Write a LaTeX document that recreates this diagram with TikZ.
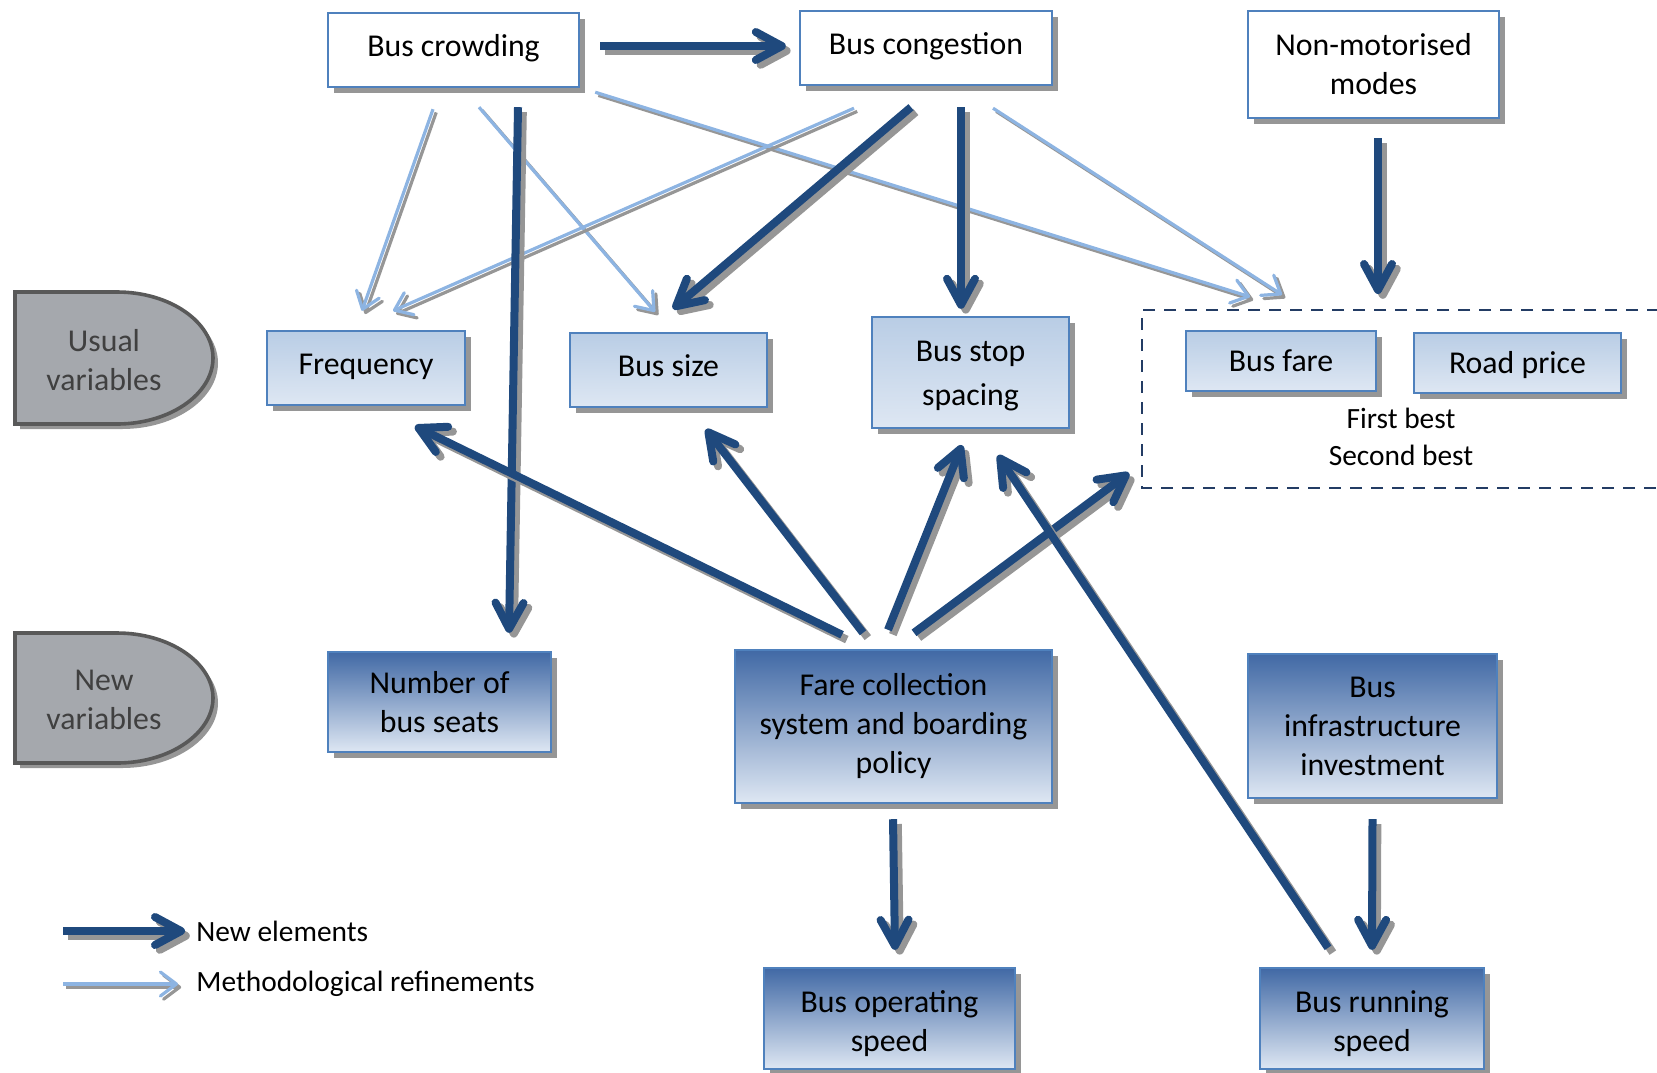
\documentclass[tikz,border=0pt]{standalone}
\usepackage{fontspec}
\setmainfont{Carlito}
\usetikzlibrary{arrows.meta,shadows,calc}

\definecolor{boxb}{RGB}{79,129,189}
\definecolor{darkb}{RGB}{31,73,125}
\definecolor{lightb}{RGB}{141,180,226}
\definecolor{shadowc}{RGB}{150,150,150}
\definecolor{usualtop}{RGB}{185,205,229}
\definecolor{usualbot}{RGB}{222,231,243}
\definecolor{newtop}{RGB}{65,105,165}
\definecolor{grayfill}{RGB}{165,168,173}
\definecolor{grayedge}{RGB}{89,89,89}
\definecolor{graytext}{RGB}{64,64,64}
\definecolor{dashc}{RGB}{35,60,100}

\newcommand{\arrnew}[2]{\draw[newshadow] #1 -- #2; \draw[newarr] #1 -- #2;}
\newcommand{\arrref}[2]{\draw[refshadow] #1 -- #2; \draw[refarr] #1 -- #2;}

\begin{document}
\begin{tikzpicture}[x=0.5pt,y=-0.5pt,
  every node/.style={font=\fontsize{15.9}{19.5}\selectfont},
  smallfont/.style={font=\fontsize{14.7}{18}\selectfont},
  boxshadow/.style={general shadow={fill=shadowc, shadow xshift=3pt, shadow yshift=-3pt}},
  box/.style={draw=boxb, line width=1.2pt, align=center, inner sep=2pt, boxshadow},
  oneline/.style={text height=11pt, text depth=4.8pt},
  onelinelow/.style={text height=11pt, text depth=0.6pt},
  topbox/.style={box, fill=white},
  usualbox/.style={box, top color=usualtop, bottom color=usualbot},
  newbox/.style={box, top color=newtop, bottom color=usualbot},
  varshape/.style={fill=grayfill, draw=grayedge, line width=1.8pt, general shadow={fill=shadowc, shadow xshift=2.5pt, shadow yshift=-2.5pt}},
  newtip/.style={-{Straight Barb[length=13pt,width=14pt,round]}},
  reftip/.style={-{Straight Barb[length=8pt,width=12pt,round]}},
  newarr/.style={draw=darkb, line width=4pt, newtip},
  newshadow/.style={draw=shadowc, line width=4pt, newtip, transform canvas={shift={(2.4pt,-2.4pt)}}},
  refarr/.style={draw=lightb, line width=1.6pt, reftip},
  refshadow/.style={draw=shadowc, line width=1.6pt, reftip, transform canvas={shift={(1.6pt,-1.6pt)}}},
]
\useasboundingbox (0,0) rectangle (1657,1072);

% left category shapes
\draw[varshape] (15,292) -- (117,292) .. controls (170,292) and (213,322) .. (213,358)
  .. controls (213,394) and (170,424) .. (117,424) -- (15,424) -- cycle;
\node[text=graytext, align=center] (usual) at (104,360) {Usual\\variables};
\draw[varshape] (15,633) -- (117,633) .. controls (170,633) and (213,663) .. (213,698)
  .. controls (213,733) and (170,763) .. (117,763) -- (15,763) -- cycle;
\node[text=graytext, align=center] (newvar) at (104,700) {New\\variables};

% top row
\node[topbox, oneline, minimum width=125.5pt, minimum height=37pt] (crowd) at (453.5,50) {Bus crowding};
\node[topbox, oneline, minimum width=126pt, minimum height=37pt] (cong) at (926,48) {Bus congestion};
\node[topbox, minimum width=125.5pt, minimum height=53.5pt] (nonmot) at (1373.5,64.5) {Non-motorised\\modes};

% usual variables
\node[usualbox, oneline, minimum width=99pt, minimum height=37pt] (freq) at (366,368) {Frequency};
\node[usualbox, oneline, minimum width=98.5pt, minimum height=37pt] (size) at (668.5,370) {Bus size};
\node[usualbox, minimum width=98.5pt, minimum height=55.5pt, font=\fontsize{15.9}{22}\selectfont] (stop) at (970.5,372.5) {\rule{0pt}{13.4pt}Bus stop\\spacing};
\node[usualbox, onelinelow, minimum width=95pt, minimum height=30pt] (fare) at (1281,361) {Bus fare};
\node[usualbox, onelinelow, minimum width=103.5pt, minimum height=30pt] (road) at (1517.5,363) {Road price};

% pricing box
\draw[dashc, line width=1pt, dash pattern=on 6pt off 4.5pt] (1680,310) -- (1142,310) -- (1142,488) -- (1680,488);
\node[smallfont] (first) at (1401,418) {First best};
\node[smallfont] (second) at (1401,455) {Second best};
\coordinate (pbtop) at (1378,294);
\coordinate (pbleft) at (1129,473);

% new variables
\node[newbox, minimum width=111.5pt, minimum height=50pt] (seats) at (439.5,702) {Number of\\bus seats};
\node[newbox, minimum width=158.5pt, minimum height=76.5pt] (fcs) at (893.5,726.5) {Fare collection\\system and boarding\\policy};
\node[newbox, minimum width=124.5pt, minimum height=72pt] (infra) at (1372.5,726) {Bus\\infrastructure\\investment};
\node[newbox, minimum width=125.5pt, minimum height=50.5pt] (opspeed) at (889.5,1018.5) {\rule{0pt}{15.8pt}Bus operating\\speed};
\node[newbox, minimum width=112pt, minimum height=50.5pt] (runspeed) at (1372,1018.5) {\rule{0pt}{15.8pt}Bus running\\speed};

% methodological refinements (light)
\arrref{($(crowd.south)+(-20.5,21)$)}{($(freq.north)+(-4,-19)$)}
\arrref{($(crowd.south)+(25.5,19)$)}{($(size.north)+(-13.5,-20)$)}
\arrref{($(crowd.south east)+(15,4)$)}{($(fare.north)+(-31,-33)$)}
\arrref{($(cong.south)+(-72,22)$)}{($(freq.north)+(27,-19)$)}
\arrref{($(cong.south)+(67,22)$)}{($(fare.north)+(1,-35)$)}

% new elements (dark)
\arrnew{($(crowd.east)+(20,-4)$)}{($(cong.west)+(-13,-2)$)}
\arrnew{($(crowd.south)+(64.5,19)$)}{($(seats.north)+(69.5,-18)$)}
\arrnew{($(cong.south)+(-15,21)$)}{($(size.north)+(4.5,-23)$)}
\arrnew{($(cong.south)+(35,21)$)}{($(stop.north)+(-9.5,-7)$)}
\arrnew{($(nonmot.south)+(4.5,19)$)}{(pbtop)}
\arrnew{($(fcs.north)+(-51.5,-14)$)}{($(freq.south)+(49,20)$)}
\arrnew{($(fcs.north)+(-30.5,-16)$)}{($(size.south)+(37.5,21)$)}
\arrnew{($(fcs.north)+(-5.5,-19)$)}{($(stop.south)+(-8.5,16)$)}
\arrnew{($(fcs.north)+(20.5,-16)$)}{(pbleft)}
\arrnew{($(fcs.south)+(-0.5,15)$)}{($(opspeed.north)+(5.5,-17)$)}
\arrnew{($(infra.south)+(0,20)$)}{($(runspeed.north)+(0,-17)$)}
\arrnew{($(runspeed.north)+(-44,-19)$)}{($(stop.south)+(27.5,26)$)}

% legend
\coordinate (l1a) at (63,931);
\coordinate (l1b) at (185,931);
\arrnew{(l1a)}{(l1b)}
\node[smallfont, anchor=west, inner sep=0pt] (lnew) at (196,931) {New elements};
\coordinate (l2a) at (63,984);
\coordinate (l2b) at (178,984);
\arrref{(l2a)}{(l2b)}
\node[smallfont, anchor=west, inner sep=0pt] (lref) at (196,984) {Methodological refinements};
\end{tikzpicture}
\end{document}
